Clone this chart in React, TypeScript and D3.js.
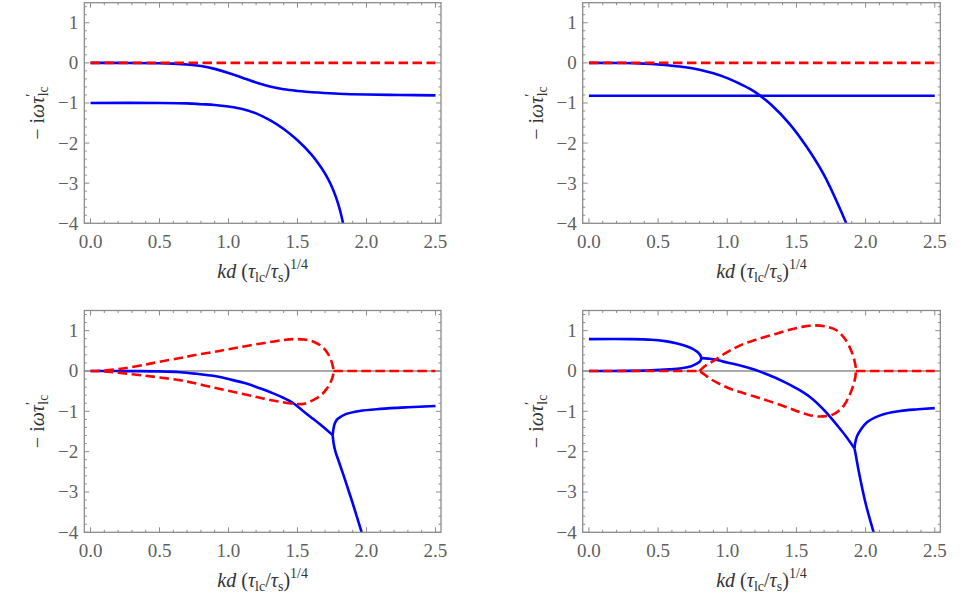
import { scaleLinear, line, curveCatmullRom, range, format } from 'd3';

// x ticks and y ticks shared by all four panels
const xTicks = [0, 0.5, 1, 1.5, 2, 2.5];
const yTicks = [-4, -3, -2, -1, 0, 1];

type Pt = [number, number];

// top left
const tlBlueUpper: Pt[] = [[0, 0], [0.3, -0.003], [0.5, -0.01], [0.6, -0.02], [0.7, -0.04], [0.8, -0.08], [0.9, -0.15], [1.0, -0.25], [1.1, -0.37], [1.2, -0.49], [1.3, -0.59], [1.4, -0.66], [1.5, -0.7], [1.65, -0.74], [1.8, -0.77], [2.0, -0.79], [2.25, -0.8], [2.5, -0.81]];
const tlBlueLower: Pt[] = [[0, -1], [0.5, -1.0], [0.7, -1.01], [0.8, -1.03], [0.9, -1.05], [1.0, -1.09], [1.1, -1.15], [1.2, -1.26], [1.3, -1.43], [1.4, -1.65], [1.5, -1.93], [1.6, -2.28], [1.65, -2.5], [1.7, -2.76], [1.74, -3.02], [1.78, -3.36], [1.81, -3.7], [1.83, -4.0]];
const tlRed: Pt[] = [[0, 0], [2.5, 0]];

// top right
const trBlueFlat: Pt[] = [[0, -0.82], [2.5, -0.82]];
const trBlueCurve: Pt[] = [[0, 0], [0.25, -0.005], [0.4, -0.02], [0.5, -0.04], [0.6, -0.07], [0.7, -0.11], [0.8, -0.17], [0.9, -0.26], [1.0, -0.38], [1.09, -0.52], [1.17, -0.66], [1.235, -0.81], [1.31, -1.02], [1.45, -1.52], [1.575, -2.1], [1.7, -2.8], [1.81, -3.6], [1.86, -4.0]];
const trRed: Pt[] = [[0, 0], [2.5, 0]];

// bottom left
const blBlueMain: Pt[] = [[0, 0], [0.3, -0.003], [0.5, -0.01], [0.65, -0.03], [0.77, -0.07], [0.89, -0.12], [1.0, -0.2], [1.13, -0.31], [1.22, -0.42], [1.32, -0.55], [1.4, -0.67], [1.47, -0.8], [1.54, -0.99], [1.61, -1.18], [1.68, -1.37], [1.755, -1.59]];
const blBlueUp: Pt[] = [[1.755, -1.59], [1.76, -1.45], [1.77, -1.3], [1.79, -1.19], [1.85, -1.07], [1.95, -0.99], [2.1, -0.94], [2.3, -0.9], [2.5, -0.87]];
const blBlueDown: Pt[] = [[1.755, -1.59], [1.762, -1.8], [1.775, -2.0], [1.8, -2.25], [1.84, -2.65], [1.9, -3.28], [1.965, -4.0]];
const blRedLoop: Pt[] = [[0, 0], [0.1, 0.01], [0.25, 0.07], [0.4, 0.16], [0.5, 0.23], [0.65, 0.32], [0.75, 0.39], [0.89, 0.47], [1.0, 0.54], [1.25, 0.69], [1.4, 0.77], [1.47, 0.79], [1.55, 0.78], [1.62, 0.72], [1.68, 0.6], [1.72, 0.43], [1.745, 0.25], [1.757, 0.1], [1.76, 0], [1.758, -0.1], [1.74, -0.28], [1.71, -0.45], [1.67, -0.6], [1.61, -0.73], [1.55, -0.81], [1.49, -0.82], [1.37, -0.76], [1.25, -0.68], [1.13, -0.59], [1.0, -0.49], [0.89, -0.41], [0.75, -0.3], [0.65, -0.23], [0.5, -0.16], [0.4, -0.12], [0.25, -0.06], [0.1, -0.01], [0, 0]];
const blRedFlat: Pt[] = [[1.76, 0], [2.5, 0]];

// bottom right
const brBlueLoop: Pt[] = [[0, 0.79], [0.3, 0.79], [0.45, 0.775], [0.55, 0.74], [0.63, 0.69], [0.7, 0.62], [0.75, 0.55], [0.785, 0.47], [0.805, 0.39], [0.812, 0.32], [0.805, 0.25], [0.78, 0.18], [0.74, 0.12], [0.67, 0.07], [0.58, 0.04], [0.45, 0.015], [0.25, 0.003], [0, 0]];
const brBlueMain: Pt[] = [[0.812, 0.32], [0.9, 0.29], [1.0, 0.21], [1.1, 0.13], [1.2, 0.03], [1.3, -0.1], [1.4, -0.25], [1.5, -0.43], [1.6, -0.65], [1.7, -0.97], [1.8, -1.37], [1.86, -1.63], [1.92, -1.92]];
const brBlueUp: Pt[] = [[1.92, -1.92], [1.925, -1.78], [1.94, -1.6], [1.97, -1.43], [2.01, -1.27], [2.07, -1.15], [2.13, -1.07], [2.25, -0.99], [2.38, -0.95], [2.5, -0.92]];
const brBlueDown: Pt[] = [[1.92, -1.92], [1.93, -2.1], [1.95, -2.48], [2.0, -3.28], [2.058, -4.0]];
const brRedFlatLeft: Pt[] = [[0, 0], [0.8, 0]];
const brRedLoop: Pt[] = [[0.8, 0], [0.83, 0.1], [0.87, 0.19], [0.91, 0.27], [1.0, 0.47], [1.09, 0.63], [1.2, 0.77], [1.33, 0.9], [1.45, 1.02], [1.55, 1.1], [1.63, 1.13], [1.72, 1.1], [1.79, 1.01], [1.85, 0.8], [1.9, 0.47], [1.925, 0.17], [1.93, 0], [1.92, -0.25], [1.89, -0.55], [1.84, -0.87], [1.77, -1.07], [1.67, -1.13], [1.58, -1.08], [1.5, -0.99], [1.4, -0.86], [1.25, -0.69], [1.1, -0.53], [1.02, -0.44], [0.95, -0.33], [0.88, -0.2], [0.84, -0.1], [0.8, 0]];
const brRedFlatRight: Pt[] = [[1.93, 0], [2.5, 0]];

const panels = [
  { left: 84.3, right: 441, top: 2.7, bottom: 223.3, blue: [tlBlueUpper, tlBlueLower], red: [tlRed], axis: false },
  { left: 582.7, right: 940.3, top: 2.7, bottom: 223.3, blue: [trBlueFlat, trBlueCurve], red: [trRed], axis: false },
  { left: 84.3, right: 441, top: 310.5, bottom: 532.3, blue: [blBlueMain, blBlueUp, blBlueDown], red: [blRedLoop, blRedFlat], axis: true },
  { left: 582.7, right: 940.3, top: 310.5, bottom: 532.3, blue: [brBlueLoop, brBlueMain, brBlueUp, brBlueDown], red: [brRedFlatLeft, brRedLoop, brRedFlatRight], axis: true },
];

const FONT = "'Liberation Serif', 'Times New Roman', Tinos, 'DejaVu Serif', 'Noto Serif', serif";
const frameColor = '#8c8c8c';
const tickText = '#5f5f5f';
const labelColor = '#333';

function Panel({ p, idx }: { p: typeof panels[number]; idx: number }) {
  const x = scaleLinear().domain([-0.045, 2.54]).range([p.left, p.right]);
  const y = scaleLinear().domain([-4, 1.5]).range([p.bottom, p.top]);
  const path = line<Pt>().x(d => x(d[0])).y(d => y(d[1])).curve(curveCatmullRom.alpha(0.5));
  const xMinor = range(0, 26).map(i => i / 10);
  const yMinor = range(-20, 8).map(i => i / 5);
  const cx = (p.left + p.right) / 2;
  const cy = (p.top + p.bottom) / 2;
  const fx = format('.1f');
  const fy = format('d');
  const txt = { fontFamily: FONT };
  return (
    <g>
      <defs>
        <clipPath id={`clip${idx}`}>
          <rect x={p.left} y={p.top} width={p.right - p.left} height={p.bottom - p.top} />
        </clipPath>
      </defs>
      {p.axis && (
        <line x1={p.left} x2={p.right} y1={y(0)} y2={y(0)} stroke="#555" strokeWidth={1} />
      )}
      <g clipPath={`url(#clip${idx})`}>
        {p.blue.map((c, i) => (
          <path key={'b' + i} d={path(c) ?? ''} fill="none" stroke="#0000ff" strokeWidth={2.6} strokeLinejoin="round" />
        ))}
        {p.red.map((c, i) => (
          <path key={'r' + i} d={path(c) ?? ''} fill="none" stroke="#ff0000" strokeWidth={2.6} strokeDasharray="9.5 4.5" />
        ))}
      </g>
      {/* frame ticks, major every 0.5 / 1, minor every 0.1 / 0.2 */}
      {xMinor.map(v => {
        const major = Math.abs(v * 2 - Math.round(v * 2)) < 1e-6;
        const len = major ? 5 : 2.5;
        return (
          <g key={'xt' + v} stroke={frameColor} strokeWidth={1}>
            <line x1={x(v)} x2={x(v)} y1={p.bottom} y2={p.bottom - len} />
            <line x1={x(v)} x2={x(v)} y1={p.top} y2={p.top + len} />
          </g>
        );
      })}
      {yMinor.map(v => {
        const major = Math.abs(v - Math.round(v)) < 1e-6;
        const len = major ? 5 : 2.5;
        return (
          <g key={'yt' + v} stroke={frameColor} strokeWidth={1}>
            <line x1={p.left} x2={p.left + len} y1={y(v)} y2={y(v)} />
            <line x1={p.right} x2={p.right - len} y1={y(v)} y2={y(v)} />
          </g>
        );
      })}
      <rect x={p.left} y={p.top} width={p.right - p.left} height={p.bottom - p.top} fill="none" stroke={frameColor} strokeWidth={1.3} />
      {xTicks.map(v => (
        <text key={'xl' + v} x={x(v)} y={p.bottom + 24.5} textAnchor="middle" fontSize={19} style={txt} fill={tickText}>{fx(v)}</text>
      ))}
      {yTicks.map(v => (
        <text key={'yl' + v} x={p.left - 6} y={y(v) + 6.5} textAnchor="end" fontSize={19} style={txt} fill={tickText}>{fy(v)}</text>
      ))}
      <text x={cx} y={p.bottom + 55} textAnchor="middle" fontSize={20} style={txt} fill={labelColor}>
        <tspan fontStyle="italic">kd</tspan>
        <tspan> (</tspan>
        <tspan fontStyle="italic">τ</tspan>
        <tspan fontSize={14} dy={4}>lc</tspan>
        <tspan dy={-4}>/</tspan>
        <tspan fontStyle="italic">τ</tspan>
        <tspan fontSize={14} dy={4}>s</tspan>
        <tspan dy={-4}>)</tspan>
        <tspan fontSize={14} dy={-9}>1/4</tspan>
      </text>
      <text transform={`translate(${p.left - 40},${cy}) rotate(-90)`} textAnchor="middle" fontSize={20} style={txt} fill={labelColor}>
        <tspan>− i</tspan>
        <tspan fontStyle="italic">ωτ</tspan>
        <tspan fontSize={15} dy={-8}>′</tspan>
        <tspan fontSize={14} dx={-3} dy={12}>lc</tspan>
      </text>
    </g>
  );
}

export default function App() {
  return (
    <div>
      <svg width={969} height={601} style={{ position: 'absolute', left: 0, top: 0, background: '#fff' }}>
        {panels.map((p, i) => <Panel key={i} p={p} idx={i} />)}
      </svg>
    </div>
  );
}
